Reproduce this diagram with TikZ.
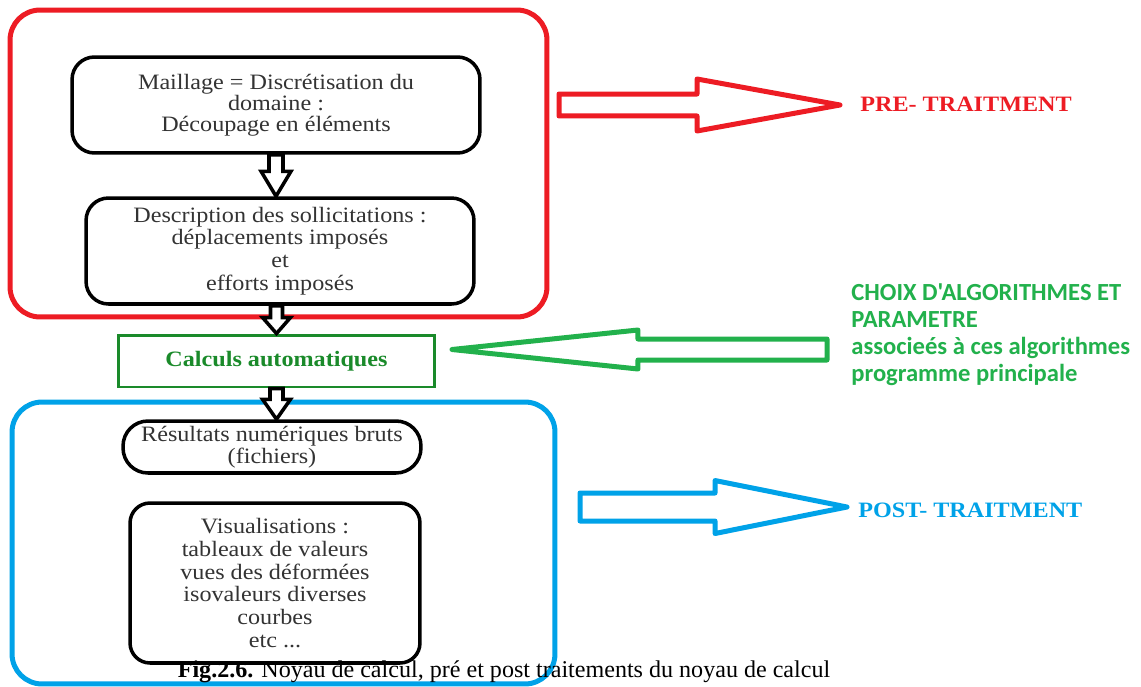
\documentclass[tikz,border=0pt]{standalone}
\usepackage{fontspec}
\setmainfont{Liberation Serif}
\newfontfamily\boxfont{Liberation Serif}[FakeStretch=1.1]
\newfontfamily\notefont{Carlito}
\usetikzlibrary{calc}

\definecolor{prered}{HTML}{ED1C24}
\definecolor{postblue}{HTML}{00A2E8}
\definecolor{algogreen}{HTML}{22B14C}
\definecolor{calcgreen}{HTML}{1A8A2A}
\definecolor{boxtext}{HTML}{333333}

% hollow block arrow: [style]{from}{to}{shaft half}{head half}{head length}
\newcommand{\hollowarrow}[6][]{%
  \coordinate (hb) at ($(#3)!#6!(#2)$);
  \draw[#1] ($(#2)!#4!90:(#3)$) -- ($(hb)!#4!90:(#3)$) -- ($(hb)!#5!90:(#3)$)
    -- (#3) -- ($(hb)!#5!-90:(#3)$) -- ($(hb)!#4!-90:(#3)$)
    -- ($(#2)!#4!-90:(#3)$) -- cycle;}

\begin{document}
\begin{tikzpicture}[x=0.02cm,y=-0.02cm,
  frame/.style={draw,line width=0.1cm,rounded corners=0.6cm},
  stepbox/.style={draw,line width=2pt,rounded corners=0.45cm,align=center,
    text=boxtext,font=\boxfont\fontsize{12.5}{13}\selectfont,inner sep=2pt},
  blockarr/.style={draw,line width=2pt,line join=miter,fill=white},
  sidearr/.style={line width=0.1cm,line join=round}]
  \useasboundingbox[fill=white] (0,0) rectangle (1141,686);

  % frames
  \node[frame,prered,minimum width=10.74cm,minimum height=6.14cm] (pre) at (278.5,163.5) {};
  \node[frame,postblue,minimum width=10.86cm,minimum height=5.64cm] (post) at (283.5,543) {};

  % steps
  \node[stepbox,minimum width=8.16cm,minimum height=1.92cm,
    font=\boxfont\fontsize{12.5}{11.9}\selectfont] (mesh) at (276,105)
    {Maillage = Discrétisation du\\domaine :\\Découpage en éléments};
  \node[stepbox,minimum width=7.76cm,minimum height=2.12cm] (loads) at (280,251)
    {Description des sollicitations :\\déplacements imposés\\et\\efforts imposés};
  \node[draw,calcgreen,line width=1.7pt,minimum width=6.34cm,minimum height=1.04cm,
    font=\boxfont\fontsize{12.5}{13}\selectfont\bfseries] (calc) at (276.5,361)
    {Calculs automatiques};
  \node[stepbox,rounded corners=0.5cm,minimum width=5.96cm,minimum height=1.04cm,
    font=\boxfont\fontsize{12.5}{10.8}\selectfont] (res) at (272,447)
    {Résultats numériques bruts\\(fichiers)};
  \node[stepbox,rounded corners=0.4cm,minimum width=5.8cm,minimum height=3.2cm] (vis) at (275,583)
    {Visualisations :\\tableaux de valeurs\\vues des déformées\\isovaleurs diverses\\courbes\\etc ...};

  % labels
  \node[anchor=west,inner sep=0,prered,font=\boxfont\fontsize{12.5}{14}\selectfont\bfseries]
    (pretxt) at (860,104) {PRE- TRAITMENT};
  \node[anchor=west,inner sep=0,postblue,font=\boxfont\fontsize{12.5}{14}\selectfont\bfseries]
    (posttxt) at (858,510) {POST- TRAITMENT};
  \node[anchor=west,inner sep=0,align=left,algogreen,
    font=\notefont\fontsize{14}{15.4}\selectfont\bfseries] (algotxt) at (851,335)
    {CHOIX D'ALGORITHMES ET\\PARAMETRE\\associeés à ces algorithmes\\programme principale};
  \node[inner sep=0,font=\fontsize{13.7}{15}\selectfont] (caption) at (504,672)
    {\textbf{Fig.2.6.} Noyau de calcul, pré et post traitements du noyau de calcul};

  % black block arrows
  \coordinate (a1) at (mesh.south |- loads.north);
  \coordinate (a2) at (calc.north |- loads.south);
  \coordinate (a3) at (calc.south |- res.north);
  \hollowarrow[blockarr]{mesh.south}{a1}{0.14cm}{0.3cm}{0.5cm}
  \hollowarrow[blockarr]{a2}{calc.north}{0.12cm}{0.28cm}{0.32cm}
  \hollowarrow[blockarr]{calc.south}{a3}{0.13cm}{0.28cm}{0.4cm}

  % side arrows
  \coordinate (preA) at (559,105);
  \coordinate (preB) at (840,105);
  \coordinate (postA) at (580,507);
  \coordinate (postB) at (847,507);
  \coordinate (algoA) at (827,349.5);
  \coordinate (algoB) at (452,349.5);
  \hollowarrow[sidearr,prered]{preA}{preB}{0.22cm}{0.52cm}{2.86cm}
  \hollowarrow[sidearr,postblue]{postA}{postB}{0.28cm}{0.53cm}{2.64cm}
  \hollowarrow[sidearr,algogreen]{algoA}{algoB}{0.21cm}{0.39cm}{3.72cm}
\end{tikzpicture}
\end{document}
